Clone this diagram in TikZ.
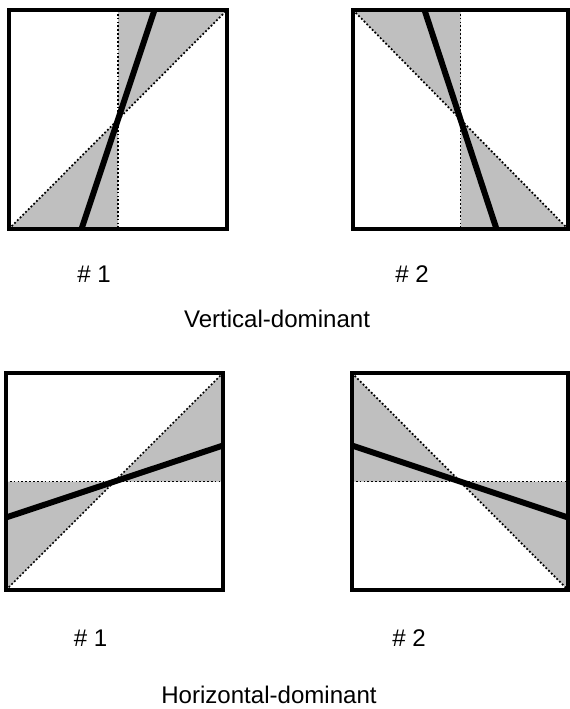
\documentclass[tikz,border=0pt]{standalone}
\usepackage{fontspec}
\setmainfont{Liberation Sans}
\usetikzlibrary{calc}

\tikzset{
  frame/.style = {draw, line width = 1.8pt},
  cone/.style = {fill = black!25},
  guide/.style = {draw, line width = 1pt, dash pattern = on 1pt off 1.2pt},
  edgeline/.style = {draw, line width = 3.4pt},
  caption/.style = {anchor = base, font = \fontsize{13.7pt}{16pt}\selectfont}
}

\begin{document}
\begin{tikzpicture}[x = 0.02cm, y = -0.02cm]
            \useasboundingbox (0,0) rectangle (569,709);
            % 縦優位 #1
            \coordinate(c1)at(118,119.5);
            \path[cone](c1)--(118,10)--(227,10)--cycle;
            \path[cone](c1)--(9,229)--(118,229)--cycle;
            \path[guide](118,10)to(118,229);
            \path[guide](9,229)to(227,10);
            \path[edgeline](154.5,10)to(81.5,229);
            \path[frame](9,10)rectangle(227,229);
            % 縦優位 #2
            \coordinate(c2)at(460.5,119.5);
            \path[cone](c2)--(353,10)--(460.5,10)--cycle;
            \path[cone](c2)--(460.5,229)--(568,229)--cycle;
            \path[guide](460.5,10)to(460.5,229);
            \path[guide](353,10)to(568,229);
            \path[edgeline](424.5,10)to(496.5,229);
            \path[frame](353,10)rectangle(568,229);
            % 横優位 #1
            \coordinate(c3)at(114.5,481.5);
            \path[cone](c3)--(6,481.5)--(6,590)--cycle;
            \path[cone](c3)--(223,373)--(223,481.5)--cycle;
            \path[guide](6,481.5)to(223,481.5);
            \path[guide](6,590)to(223,373);
            \path[edgeline](6,517.5)to(223,445.5);
            \path[frame](6,373)rectangle(223,590);
            % 横優位 #2
            \coordinate(c4)at(460,481.5);
            \path[cone](c4)--(352,373)--(352,481.5)--cycle;
            \path[cone](c4)--(568,481.5)--(568,590)--cycle;
            \path[guide](352,481.5)to(568,481.5);
            \path[guide](352,373)to(568,590);
            \path[edgeline](352,445.5)to(568,517.5);
            \path[frame](352,373)rectangle(568,590);
            % labels
            \node[caption](v1)at(94,282){\# 1};
            \node[caption](v2)at(412,282){\# 2};
            \node[caption](vt)at(277,327){Vertical-dominant};
            \node[caption](h1)at(90.5,646.5){\# 1};
            \node[caption](h2)at(409,646.5){\# 2};
            \node[caption](ht)at(269,703){Horizontal-dominant};
        \end{tikzpicture}
\end{document}
